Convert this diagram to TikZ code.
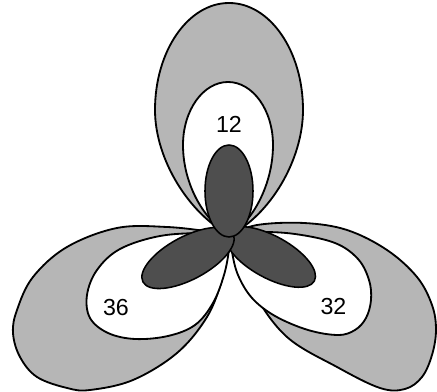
\documentclass[tikz,border=0pt]{standalone}
\usepackage{fontspec}
\setmainfont{Liberation Sans}
\definecolor{lobegray}{RGB}{182,182,182}
\definecolor{lobedark}{RGB}{78,78,78}
\begin{document}
\begin{tikzpicture}[x=0.025cm,y=-0.025cm,
  outerlobe/.style={draw=black,line width=1.3pt,fill=lobegray,line join=round},
  innerlobe/.style={draw=black,line width=1.3pt,fill=white,line join=round},
  darklobe/.style={draw=black,line width=1.1pt,fill=lobedark,line join=round},
  lbl/.style={font=\fontsize{16.5}{18}\selectfont,inner sep=0pt}]
\useasboundingbox (0,0) rectangle (437,392);
\coordinate (c) at (230,235);
% outer gray lobes
\draw[outerlobe] (c) .. controls (190,215) and (155,160) .. (155,110)
  arc[start angle=180,end angle=360,x radius=74,y radius=107]
  .. controls (303,160) and (270,215) .. (c) -- cycle;
\draw[outerlobe] plot[smooth,tension=0.6] coordinates {(230,235) (257,225) (304,223) (347,230) (387,250) (417,277) (432,305) (436,330) (432,355) (422,377) (405,389) (380,388) (337,367) (287,337) (254,293) (240,253) (230,235)} -- cycle;
\draw[outerlobe] plot[smooth,tension=0.6] coordinates {(230,235) (213,232) (167,227) (117,228) (67,247) (33,277) (17,310) (13,333) (20,357) (37,377) (67,388) (90,390) (133,380) (177,353) (207,317) (222,280) (227,255) (230,235)} -- cycle;
% white inner lobes
\draw[innerlobe] (c) .. controls (205,222) and (183,185) .. (183,145)
  arc[start angle=180,end angle=360,x radius=45,y radius=63]
  .. controls (273,185) and (252,222) .. (c) -- cycle;
\draw[innerlobe] plot[smooth,tension=0.6] coordinates {(230,235) (257,232) (295,234) (335,243) (358,259) (369,280) (371,300) (366,318) (355,330) (338,335) (308,330) (275,316) (252,298) (238,275) (232,252) (230,235)} -- cycle;
\draw[innerlobe] plot[smooth,tension=0.6] coordinates {(230,235) (205,233) (160,236) (120,249) (97,270) (87,295) (90,318) (108,333) (135,339) (168,336) (195,325) (213,303) (224,275) (229,250) (230,235)} -- cycle;
% dark lobes
\draw[darklobe] (270.5,257) [rotate around={-28.7:(270.5,257)}] ellipse [x radius=50,y radius=21];
\draw[darklobe] (188,258) [rotate around={28:(188,258)}] ellipse [x radius=51,y radius=21.5];
\draw[darklobe] (229,191) ellipse [x radius=24,y radius=46];
% labels
\node[lbl] (l12) at (229,124) {12};
\node[lbl] (l36) at (116,307.5) {36};
\node[lbl] (l32) at (333.5,307) {32};
\end{tikzpicture}
\end{document}
